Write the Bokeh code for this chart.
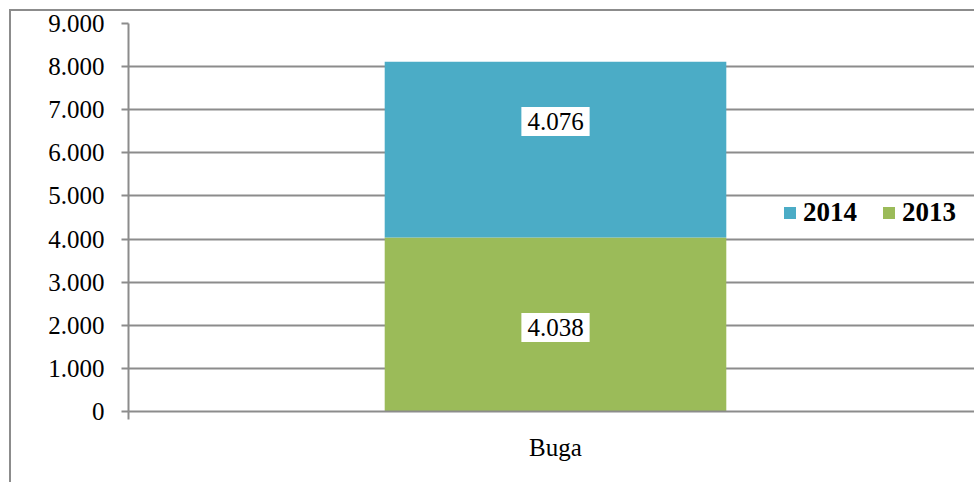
from bokeh.plotting import figure
from bokeh.models import (ColumnDataSource, Range1d, FixedTicker, Label, Legend,
                          LegendItem)
from bokeh.embed import file_html
from bokeh.resources import INLINE

# ---- data ----
categories = ["Buga"]
values_2013 = [4038]
values_2014 = [4076]
series_names = ["2014", "2013"]
y_ticks = [0, 1000, 2000, 3000, 4000, 5000, 6000, 7000, 8000, 9000]
y_tick_labels = ["0", "1.000", "2.000", "3.000", "4.000", "5.000", "6.000", "7.000", "8.000", "9.000"]

def fmt(v):
    return f"{v:,}".replace(",", ".")

GREEN = "#9BBB59"
BLUE = "#4BACC6"
GRAY = "#8c8c8c"
FONT = "Liberation Serif"

W, H = 974, 482
p = figure(width=W, height=H, output_backend="svg", toolbar_location=None,
           x_range=Range1d(0, 846 / 854), y_range=Range1d(0, 9000),
           min_border_left=128, min_border_right=0, min_border_top=23,
           min_border_bottom=71)
p.outline_line_color = None
p.background_fill_color = "white"
p.border_fill_color = "white"

xs = [i + 0.5 for i in range(len(categories))]
src = ColumnDataSource(dict(x=xs, s2013=values_2013, s2014=values_2014))
r = p.vbar_stack(["s2013", "s2014"], x="x", width=0.4, color=[GREEN, BLUE],
                 line_color=None, source=src)

# data labels
label_dy = [-3, 28]  # style offsets (px) for 2013 and 2014 labels
for i, x in enumerate(xs):
    a, b = values_2013[i], values_2014[i]
    for yv, txt, dy in [(a / 2, fmt(a), label_dy[0]), (a + b / 2, fmt(b), label_dy[1])]:
        p.add_layout(Label(x=x, y=yv, text=txt, y_offset=dy,
                           text_align="center", text_baseline="middle",
                           text_font=FONT, text_font_size="25px", text_color="black",
                           background_fill_color="white", padding=6))

# axes
p.yaxis.ticker = FixedTicker(ticks=y_ticks)
p.yaxis.major_label_overrides = {t: l for t, l in zip(y_ticks, y_tick_labels)}
p.yaxis.major_label_text_font = FONT
p.yaxis.major_label_text_font_size = "25px"
p.yaxis.major_label_text_color = "black"
p.yaxis.axis_line_color = GRAY
p.yaxis.axis_line_width = 2
p.yaxis.major_tick_line_color = GRAY
p.yaxis.major_tick_line_width = 2
p.yaxis.major_tick_out = 7
p.yaxis.major_tick_in = 0
p.yaxis.minor_tick_line_color = None
p.yaxis.major_label_standoff = 17

p.xaxis.ticker = FixedTicker(ticks=xs, minor_ticks=[0] + [x + 0.5 for x in xs])
p.xaxis.major_label_overrides = {x: c for x, c in zip(xs, categories)}
p.xaxis.major_label_text_font = FONT
p.xaxis.major_label_text_font_size = "25px"
p.xaxis.major_label_text_color = "black"
p.xaxis.axis_line_color = GRAY
p.xaxis.axis_line_width = 2
p.xaxis.major_tick_line_color = None
p.xaxis.major_tick_out = 0
p.xaxis.major_tick_in = 0
p.xaxis.minor_tick_line_color = GRAY
p.xaxis.minor_tick_line_width = 2
p.xaxis.minor_tick_out = 8
p.xaxis.minor_tick_in = 0
p.xaxis.major_label_standoff = 14

p.xgrid.grid_line_color = None
p.ygrid.ticker = FixedTicker(ticks=y_ticks)
p.ygrid.grid_line_color = GRAY
p.ygrid.grid_line_width = 2

# legend
items = [LegendItem(label=series_names[0], renderers=[r[1]]),
         LegendItem(label=series_names[1], renderers=[r[0]])]
legend = Legend(items=items, orientation="horizontal", location=(654, 183),
                glyph_width=15, glyph_height=15, label_standoff=6, spacing=24,
                padding=0, margin=0, border_line_color=None,
                background_fill_alpha=0,
                label_text_font=FONT, label_text_font_size="27px",
                label_text_font_style="bold", label_text_color="black")
p.add_layout(legend)

# outer chart border (left and top edges visible)
p.stylesheets = [":host::after { content: ''; position: absolute; left: 9px; top: 9px; "
                 "right: 0px; bottom: 0px; border-left: 2px solid #8c8c8c; "
                 "border-top: 2px solid #8c8c8c; pointer-events: none; z-index: 10; }"]

open("out.html", "w").write(file_html(p, INLINE))
